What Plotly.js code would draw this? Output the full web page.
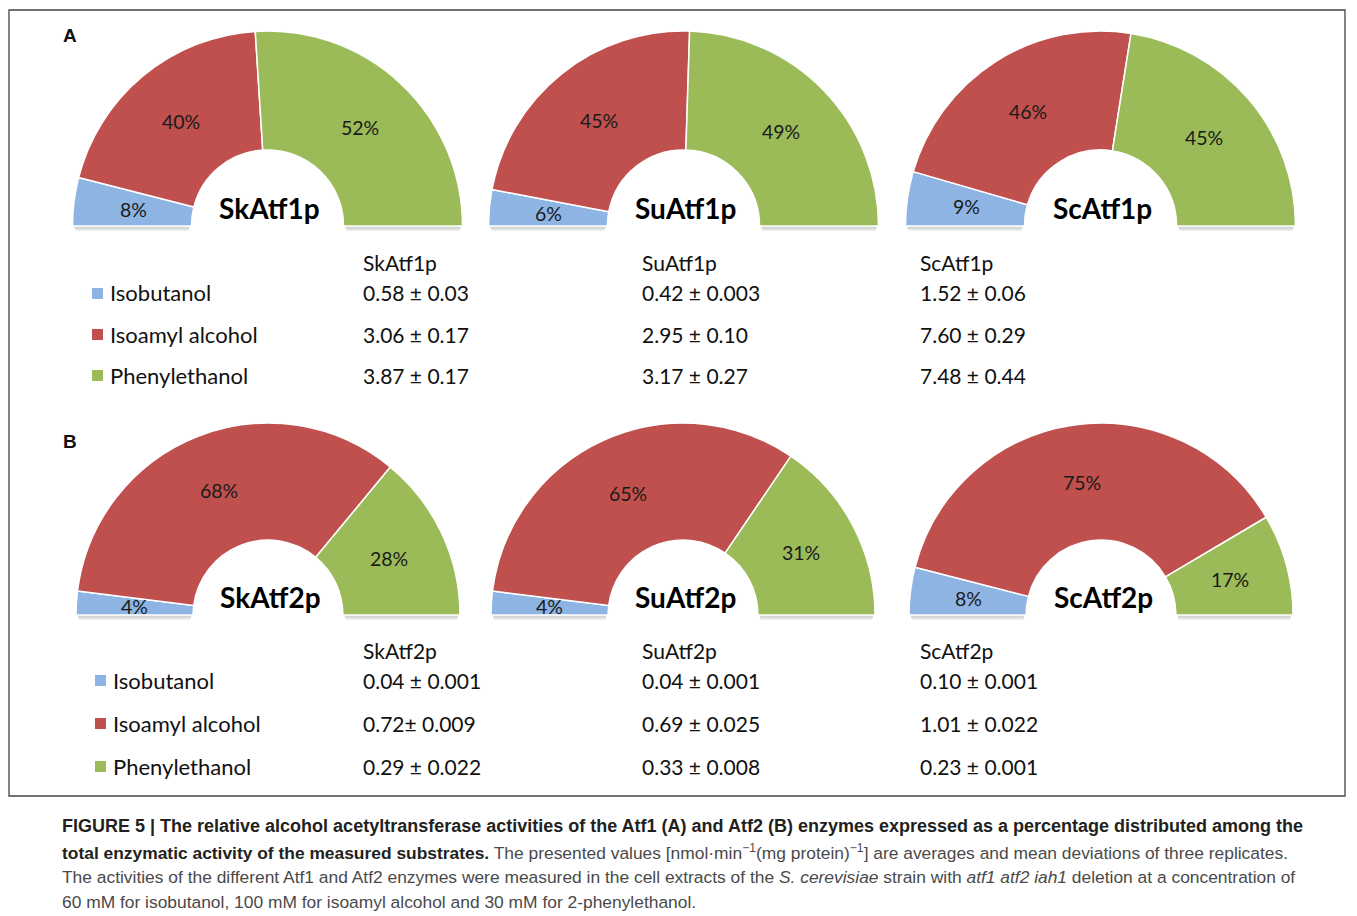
<!DOCTYPE html>
<html><head><meta charset="utf-8">
<script src="https://cdn.plot.ly/plotly-3.0.1.min.js"></script>
<style>html,body{margin:0;padding:0;background:#fff}</style>
</head><body><div id="chart" style="width:1357px;height:916px"></div>
<script>
// ---- data ----
const substrates = ['Isobutanol', 'Isoamyl alcohol', 'Phenylethanol'];
const sliceColors = ['#8DB4E2', '#C0504D', '#9BBB59'];

const atf1Enzymes = ['SkAtf1p', 'SuAtf1p', 'ScAtf1p'];
const atf1SkPct = [8, 40, 52];
const atf1SuPct = [6, 45, 49];
const atf1ScPct = [9, 46, 45];
const atf1SkAct = ['0.58 ± 0.03', '3.06 ± 0.17', '3.87 ± 0.17'];
const atf1SuAct = ['0.42 ± 0.003', '2.95 ± 0.10', '3.17 ± 0.27'];
const atf1ScAct = ['1.52 ± 0.06', '7.60 ± 0.29', '7.48 ± 0.44'];

const atf2Enzymes = ['SkAtf2p', 'SuAtf2p', 'ScAtf2p'];
const atf2SkPct = [4, 68, 28];
const atf2SuPct = [4, 65, 31];
const atf2ScPct = [8, 75, 17];
const atf2SkAct = ['0.04 ± 0.001', '0.72± 0.009', '0.29 ± 0.022'];
const atf2SuAct = ['0.04 ± 0.001', '0.69 ± 0.025', '0.33 ± 0.008'];
const atf2ScAct = ['0.10 ± 0.001', '1.01 ± 0.022', '0.23 ± 0.001'];

const captionLines = [
  '<b>FIGURE 5 | The relative alcohol acetyltransferase activities of the Atf1 (A) and Atf2 (B) enzymes expressed as a percentage distributed among the</b>',
  '<b>total enzymatic activity of the measured substrates.</b><span style="color:#4a4a4a"> The presented values [nmol·min<sup>−1</sup>(mg protein)<sup>−1</sup>] are averages and mean deviations of three replicates.</span>',
  '<span style="color:#4a4a4a">The activities of the different Atf1 and Atf2 enzymes were measured in the cell extracts of the <i>S. cerevisiae</i> strain with <i>atf1 atf2 iah1</i> deletion at a concentration of</span>',
  '<span style="color:#4a4a4a">60 mM for isobutanol, 100 mM for isoamyl alcohol and 30 mM for 2-phenylethanol.</span>'
];

// ---- layout geometry (pixels) ----
const W = 1357, H = 916;
const HOLE = 0.39;
const FONT = 'Lato, "Open Sans", sans-serif';
const px = v => v / W;
const py = v => 1 - v / H;

const panels = [
  { letter: 'A', letterY: 36, enzymes: atf1Enzymes, pcts: [atf1SkPct, atf1SuPct, atf1ScPct],
    acts: [atf1SkAct, atf1SuAct, atf1ScAct], cy: 226, r: 195, cxs: [267.5, 683.5, 1100.5],
    headY: 262, rowY: [293, 334, 375], sqX: 92, labX: 108 },
  { letter: 'B', letterY: 442, enzymes: atf2Enzymes, pcts: [atf2SkPct, atf2SuPct, atf2ScPct],
    acts: [atf2SkAct, atf2SuAct, atf2ScAct], cy: 615, r: 192, cxs: [268, 683, 1101],
    headY: 650, rowY: [680, 723, 766], sqX: 95, labX: 111 }
];
const colX = [361, 640, 918];

const traces = [], annotations = [], shapes = [];

panels.forEach(p => {
  // panel letter
  annotations.push({ xref: 'paper', yref: 'paper', x: px(61), y: py(p.letterY), xanchor: 'left', yanchor: 'middle',
    text: '<b>' + p.letter + '</b>', showarrow: false, font: { family: 'Liberation Sans, Arial', size: 19, color: '#111' } });

  p.enzymes.forEach((name, k) => {
    const vals = p.pcts[k];
    const total = vals.reduce((a, b) => a + b, 0);
    const cx = p.cxs[k], cy = p.cy, r = p.r;
    traces.push({
      type: 'pie', values: vals.concat([total]), labels: substrates.concat(['hidden']),
      sort: false, direction: 'clockwise', rotation: -90, hole: HOLE,
      marker: { colors: sliceColors.concat(['rgba(0,0,0,0)']),
                line: { color: ['#fff', '#fff', '#fff', 'rgba(0,0,0,0)'], width: [1.5, 1.5, 1.5, 0] } },
      textinfo: 'none', hoverinfo: 'skip', showlegend: false,
      domain: { x: [px(cx - r), px(cx + r)], y: [py(cy + r), py(cy - r)] }
    });
    // soft shadow under the flat base
    [[cx - r + 2, cx - r * HOLE - 2], [cx + r * HOLE + 2, cx + r - 2]].forEach(seg => {
      shapes.push({ type: 'line', xref: 'paper', yref: 'paper', x0: px(seg[0]), x1: px(seg[1]),
        y0: py(cy + 2), y1: py(cy + 2), line: { color: 'rgba(140,140,140,0.35)', width: 2.5 } });
      shapes.push({ type: 'line', xref: 'paper', yref: 'paper', x0: px(seg[0] + 1), x1: px(seg[1] - 1),
        y0: py(cy + 4), y1: py(cy + 4), line: { color: 'rgba(170,170,170,0.2)', width: 2 } });
    });
    // percentage labels at slice mid points
    let start = 180;
    const rm = r * (1 + HOLE) / 2;
    vals.forEach((v, i) => {
      const span = v / total * 180;
      const mid = (start - span / 2) * Math.PI / 180;
      start -= span;
      annotations.push({ xref: 'paper', yref: 'paper', x: px(cx + rm * Math.cos(mid)), y: py(cy - rm * Math.sin(mid)),
        xanchor: 'center', yanchor: 'middle', text: v + '%', showarrow: false,
        font: { family: FONT, size: 19.5, color: '#1a1a1a' } });
    });
    // enzyme name in the hole
    annotations.push({ xref: 'paper', yref: 'paper', x: px(cx + 2), y: py(cy - 18), xanchor: 'center', yanchor: 'middle',
      text: '<b>' + name + '</b>', showarrow: false, font: { family: FONT, size: 28, color: '#000' } });
    // table column header and values
    annotations.push({ xref: 'paper', yref: 'paper', x: px(colX[k]), y: py(p.headY), xanchor: 'left', yanchor: 'middle',
      text: name, showarrow: false, font: { family: FONT, size: 21, color: '#111' } });
    p.acts[k].forEach((a, i) => {
      annotations.push({ xref: 'paper', yref: 'paper', x: px(colX[k]), y: py(p.rowY[i]), xanchor: 'left', yanchor: 'middle',
        text: a, showarrow: false, font: { family: FONT, size: 21, color: '#111' } });
    });
  });

  // legend rows
  substrates.forEach((s, i) => {
    shapes.push({ type: 'rect', xref: 'paper', yref: 'paper', x0: px(p.sqX), x1: px(p.sqX + 11),
      y0: py(p.rowY[i] + 6), y1: py(p.rowY[i] - 5), fillcolor: sliceColors[i], line: { width: 0 } });
    annotations.push({ xref: 'paper', yref: 'paper', x: px(p.labX), y: py(p.rowY[i]), xanchor: 'left', yanchor: 'middle',
      text: s, showarrow: false, font: { family: FONT, size: 22, color: '#111' } });
  });
});

// caption
const capY = [826, 852, 877, 902];
const capSize = [18, 17.4, 17.4, 17.4];
captionLines.forEach((t, i) => {
  annotations.push({ xref: 'paper', yref: 'paper', x: px(60), y: py(capY[i]), xanchor: 'left', yanchor: 'middle',
    text: t, showarrow: false, align: 'left', font: { family: 'Liberation Sans, Arial', size: capSize[i], color: '#231f20' } });
});

// frame
shapes.push({ type: 'rect', xref: 'paper', yref: 'paper', x0: px(9), x1: px(1345), y0: py(796), y1: py(10),
  line: { color: '#444', width: 1.3 }, fillcolor: 'rgba(0,0,0,0)' });

const layout = {
  width: W, height: H, margin: { l: 0, r: 0, t: 0, b: 0 },
  paper_bgcolor: '#fff', plot_bgcolor: '#fff', showlegend: false,
  annotations: annotations, shapes: shapes
};
Plotly.newPlot('chart', traces, layout, { displayModeBar: false, staticPlot: true });
</script>
</body></html>
